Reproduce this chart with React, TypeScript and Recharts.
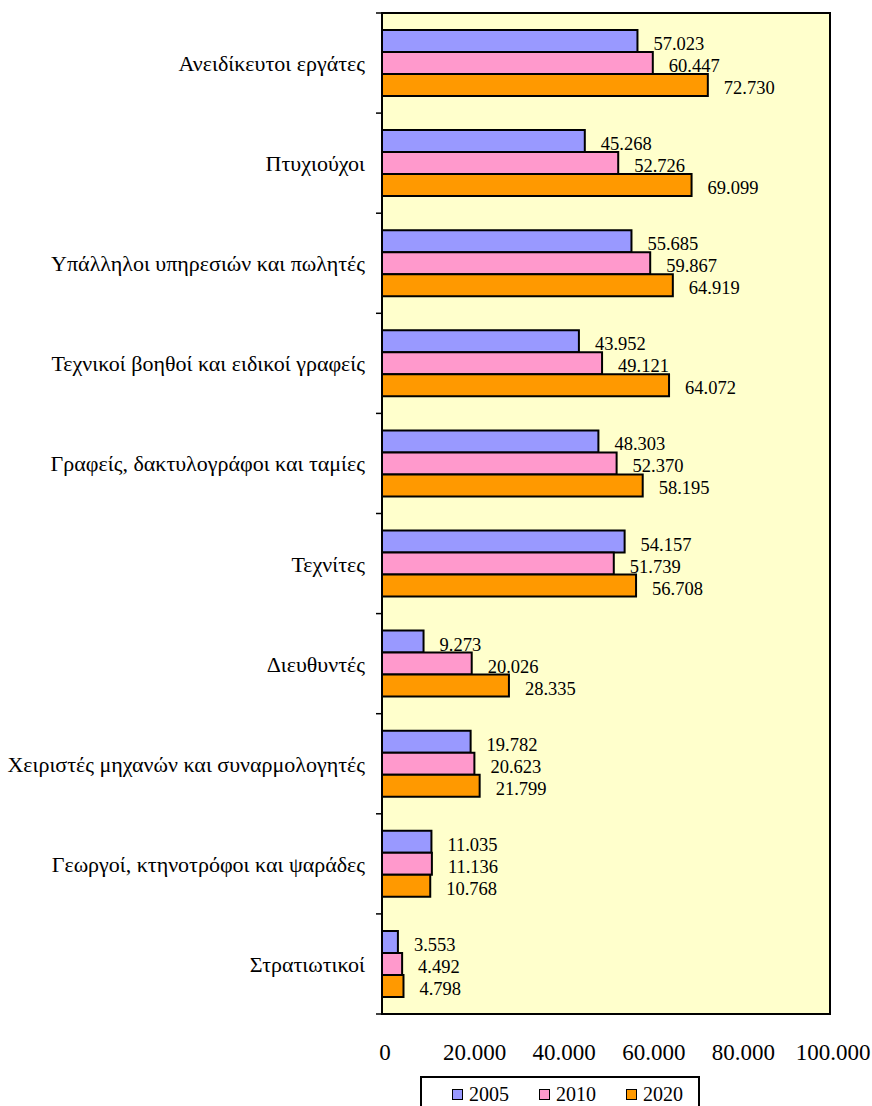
import { BarChart, Bar, XAxis, YAxis, CartesianGrid, ReferenceArea, LabelList } from 'recharts';

const categories = [
  'Ανειδίκευτοι εργάτες',
  'Πτυχιούχοι',
  'Υπάλληλοι υπηρεσιών και πωλητές',
  'Τεχνικοί βοηθοί και ειδικοί γραφείς',
  'Γραφείς, δακτυλογράφοι και ταμίες',
  'Τεχνίτες',
  'Διευθυντές',
  'Χειριστές μηχανών και συναρμολογητές',
  'Γεωργοί, κτηνοτρόφοι και ψαράδες',
  'Στρατιωτικοί',
];
const values2005 = [57023, 45268, 55685, 43952, 48303, 54157, 9273, 19782, 11035, 3553];
const values2010 = [60447, 52726, 59867, 49121, 52370, 51739, 20026, 20623, 11136, 4492];
const values2020 = [72730, 69099, 64919, 64072, 58195, 56708, 28335, 21799, 10768, 4798];
const xTicks = [0, 20000, 40000, 60000, 80000, 100000];

const series = [
  { key: 'y2005', name: '2005', color: '#9999FF' },
  { key: 'y2010', name: '2010', color: '#FF99CC' },
  { key: 'y2020', name: '2020', color: '#FF9900' },
];

const data = categories.map((name, i) => ({
  name,
  y2005: values2005[i],
  y2010: values2010[i],
  y2020: values2020[i],
}));

const FONT = '"Liberation Serif", "Times New Roman", serif';
const W = 872;
const H = 1106;
const MARGIN = { top: 13, right: 42, bottom: 0, left: 0 };
const X_AXIS_H = 92;
const band = (H - MARGIN.top - X_AXIS_H) / categories.length;

// 57023 -> "57.023"
const fmt = (v: number) => String(v).replace(/\B(?=(\d{3})+(?!\d))/g, '.');

const CategoryTick = ({ x, y, payload, index }: any) => (
  <g>
    <line x1={x - 6} x2={x} y1={y - band / 2} y2={y - band / 2} stroke="#000" strokeWidth={1.5} />
    {index === categories.length - 1 && (
      <line x1={x - 6} x2={x} y1={y + band / 2} y2={y + band / 2} stroke="#000" strokeWidth={1.5} />
    )}
    <text x={x - 17} y={y + 8} textAnchor="end" fontSize={22} fontFamily={FONT} fill="#000">
      {payload.value}
    </text>
  </g>
);

const ValueTick = ({ x, y, payload }: any) => (
  <text x={x + 3} y={y + 46} textAnchor="middle" fontSize={23} fontFamily={FONT} fill="#000">
    {fmt(payload.value)}
  </text>
);

const ValueLabel = ({ x, y, width, height, value }: any) => (
  <text x={x + width + 16} y={y + height / 2 + 9} fontSize={18.5} fontFamily={FONT} fill="#000">
    {fmt(value)}
  </text>
);

function ChartLegend() {
  return (
    <div
      style={{
        position: 'absolute',
        left: 420,
        top: 1076,
        width: 280,
        height: 40,
        border: '2px solid #000',
        background: '#fff',
        fontFamily: FONT,
        fontSize: 20,
        display: 'flex',
        paddingLeft: 30,
        boxSizing: 'border-box',
      }}
    >
      {series.map((s) => (
        <div key={s.key} style={{ display: 'flex', alignItems: 'center', height: 32, marginRight: 30 }}>
          <span
            style={{
              display: 'inline-block',
              width: 9,
              height: 9,
              background: s.color,
              border: '1.5px solid #000',
              marginRight: 6,
            }}
          />
          <span>{s.name}</span>
        </div>
      ))}
    </div>
  );
}

export default function App() {
  return (
    <div style={{ position: 'absolute', left: 0, top: 0, width: W, height: H, background: '#fff', overflow: 'hidden' }}>
      <BarChart
        width={W}
        height={H}
        data={data}
        layout="vertical"
        margin={MARGIN}
        barCategoryGap={17}
        barGap={0}
      >
        <CartesianGrid horizontal={false} vertical={false} fill="#FFFFCC" fillOpacity={1} />
        <XAxis
          type="number"
          domain={[0, 100000]}
          ticks={xTicks}
          tick={<ValueTick />}
          tickLine={false}
          axisLine={false}
          tickSize={0}
          tickMargin={0}
          height={X_AXIS_H}
          interval={0}
        />
        <YAxis
          type="category"
          dataKey="name"
          width={382}
          tick={<CategoryTick />}
          tickLine={false}
          axisLine={false}
          tickSize={0}
          tickMargin={0}
          interval={0}
        />
        {series.map((s) => (
          <Bar key={s.key} dataKey={s.key} name={s.name} fill={s.color} stroke="#000" strokeWidth={2} isAnimationActive={false}>
            <LabelList dataKey={s.key} content={<ValueLabel />} />
          </Bar>
        ))}
        <ReferenceArea x1={0} x2={100000} fill="none" stroke="#000" strokeWidth={2} ifOverflow="visible" />
      </BarChart>
      <ChartLegend />
    </div>
  );
}
